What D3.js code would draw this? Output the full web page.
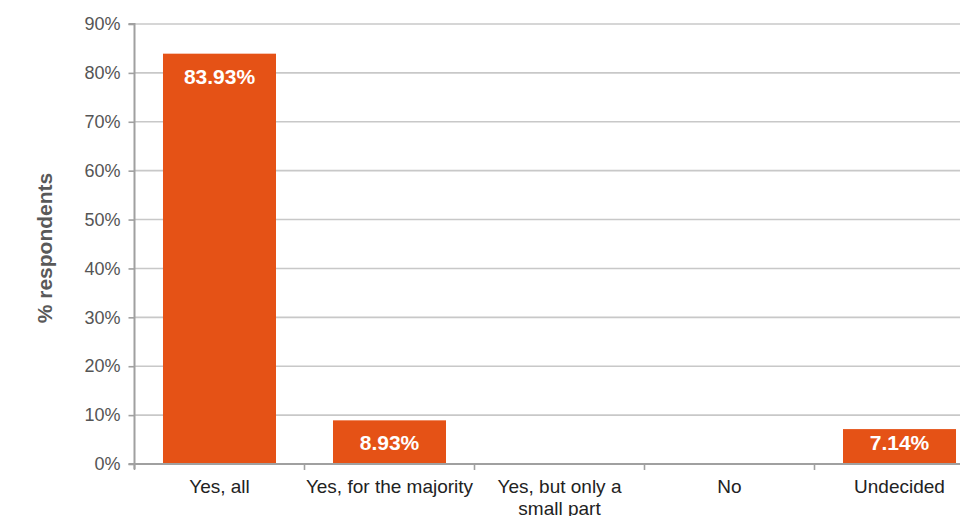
<!DOCTYPE html>
<html>
<head>
<meta charset="utf-8">
<script src="https://cdn.jsdelivr.net/npm/d3@7"></script>
<style>
  html, body { margin: 0; padding: 0; background: #fff; }
  svg { display: block; font-family: "Liberation Sans", Arial, sans-serif; }
</style>
</head>
<body>
<svg id="chart" width="960" height="516"></svg>
<script>
const categories = ["Yes, all", "Yes, for the majority", "Yes, but only a small part", "No", "Undecided"];
const values = [83.93, 8.93, 0, 0, 7.14];
const valueLabels = ["83.93%", "8.93%", "", "", "7.14%"];
const yTicks = [0, 10, 20, 30, 40, 50, 60, 70, 80, 90];
const yAxisTitle = "% respondents";

const rows = categories.map((c, i) => ({ cat: c, value: values[i], label: valueLabels[i] }));

const svg = d3.select("#chart");
const margin = { left: 134.5, top: 24, bottom: 52 };
const bandW = 170;
const x = d3.scaleBand().domain(categories)
  .range([margin.left, margin.left + bandW * categories.length])
  .paddingInner(0.3353).paddingOuter(0.1676);
const y = d3.scaleLinear().domain([0, 90]).range([464, 24]);

// gridlines
svg.append("g").selectAll("line").data(yTicks.filter(d => d > 0)).join("line")
  .attr("x1", margin.left).attr("x2", margin.left + bandW * categories.length)
  .attr("y1", d => y(d)).attr("y2", d => y(d))
  .attr("stroke", "#c8c8c8").attr("stroke-width", 1.6);

// bars
svg.append("g").selectAll("rect").data(rows).join("rect")
  .attr("x", d => x(d.cat))
  .attr("width", x.bandwidth())
  .attr("y", d => y(d.value))
  .attr("height", d => y(0) - y(d.value))
  .attr("fill", "#e55216");

// value labels
svg.append("g").selectAll("text").data(rows.filter(d => d.label !== "")).join("text")
  .attr("x", d => x(d.cat) + x.bandwidth() / 2)
  .attr("y", d => Math.min(y(d.value) + 23, y(0) - 21))
  .attr("dy", "0.35em")
  .attr("text-anchor", "middle")
  .attr("fill", "#fff")
  .attr("font-weight", "bold")
  .attr("font-size", 21)
  .text(d => d.label);

// y axis
const yAxis = d3.axisLeft(y).tickValues(yTicks).tickFormat(d => d + "%").tickSize(6).tickPadding(8);
const gy = svg.append("g").attr("transform", `translate(${margin.left},0)`).call(yAxis);
gy.select(".domain").attr("stroke", "#a0a0a0").attr("stroke-width", 2).attr("d", `M-6,${y(90)}H0V${y(0) + 5}`);
gy.selectAll(".tick line").attr("stroke", "#a0a0a0").attr("stroke-width", 1.6);
gy.selectAll(".tick text").attr("font-size", 18).attr("fill", "#555").attr("font-family", "Liberation Sans, Arial, sans-serif");

// x axis
const gx = svg.append("g").attr("transform", `translate(0,${y(0)})`);
gx.append("line").attr("x1", margin.left - 6).attr("x2", margin.left + bandW * categories.length)
  .attr("stroke", "#a0a0a0").attr("stroke-width", 2);
gx.selectAll("line.tk").data(d3.range(categories.length + 1)).join("line").attr("class", "tk")
  .attr("x1", i => margin.left + i * bandW).attr("x2", i => margin.left + i * bandW)
  .attr("y1", 0).attr("y2", 6).attr("stroke", "#a0a0a0").attr("stroke-width", 1.6);

const catText = gx.selectAll("text").data(categories).join("text")
  .attr("x", d => x(d) + x.bandwidth() / 2)
  .attr("y", 29)
  .attr("text-anchor", "middle")
  .attr("font-size", 19)
  .attr("fill", "#222");
catText.each(function(d) {
  const t = d3.select(this);
  const lines = d === "Yes, but only a small part" ? ["Yes, but only a", "small part"] : [d];
  lines.forEach((l, k) => t.append("tspan").attr("x", x(d) + x.bandwidth() / 2).attr("dy", k === 0 ? 0 : 22).text(l));
});

// y axis title
svg.append("text")
  .attr("transform", `translate(52,248) rotate(-90)`)
  .attr("text-anchor", "middle")
  .attr("font-weight", "bold")
  .attr("font-size", 21)
  .attr("fill", "#595959")
  .text(yAxisTitle);
</script>
</body>
</html>
